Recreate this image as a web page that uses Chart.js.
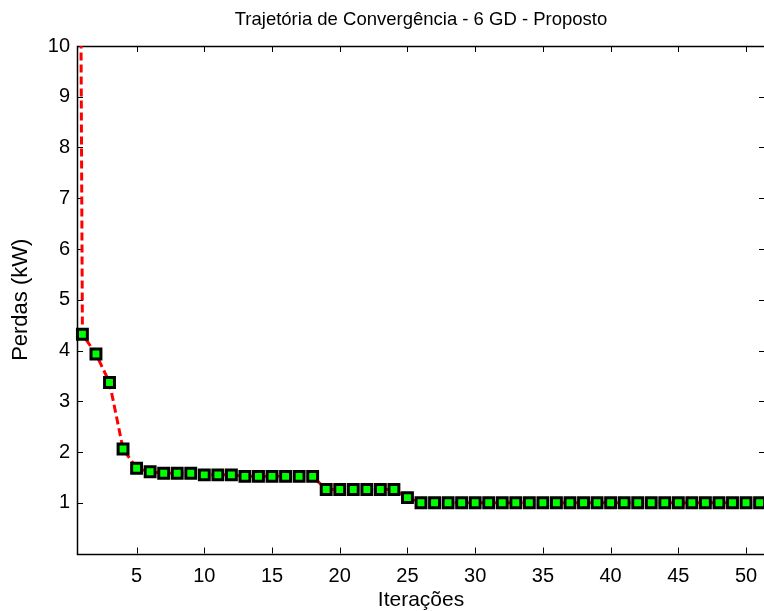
<!DOCTYPE html>
<html>
<head>
<meta charset="utf-8">
<title>Trajetória de Convergência</title>
<script src="https://cdn.jsdelivr.net/npm/chart.js@4/dist/chart.umd.min.js"></script>
<style>
  html, body { margin: 0; padding: 0; background: #fff; overflow: hidden; }
  canvas { display: block; }
</style>
</head>
<body>
<canvas id="conv" width="768" height="611"></canvas>
<script>
// iteration 0 is the starting value, off the top of the axes
const iterations = [0, 1, 2, 3, 4, 5, 6, 7, 8, 9, 10, 11, 12, 13, 14, 15, 16, 17, 18, 19, 20,
  21, 22, 23, 24, 25, 26, 27, 28, 29, 30, 31, 32, 33, 34, 35, 36, 37, 38, 39, 40,
  41, 42, 43, 44, 45, 46, 47, 48, 49, 50, 51];
const losses = [60, 4.32, 3.93, 3.37, 2.06, 1.68, 1.61, 1.58, 1.58, 1.58, 1.55, 1.55, 1.55,
  1.52, 1.52, 1.52, 1.52, 1.52, 1.52, 1.26, 1.26, 1.26, 1.26, 1.26, 1.26, 1.10,
  1.00, 1.00, 1.00, 1.00, 1.00, 1.00, 1.00, 1.00, 1.00, 1.00, 1.00, 1.00, 1.00,
  1.00, 1.00, 1.00, 1.00, 1.00, 1.00, 1.00, 1.00, 1.00, 1.00, 1.00, 1.00, 1.00];
const xTickValues = [5, 10, 15, 20, 25, 30, 35, 40, 45, 50];
const yTickValues = [1, 2, 3, 4, 5, 6, 7, 8, 9, 10];

const FONT = 'Arial, "Liberation Sans", Helvetica, sans-serif';

// MATLAB-like box with inward tick marks
const matlabFrame = {
  id: 'matlabFrame',
  beforeDatasetsDraw(chart) {
    const { ctx, chartArea: a, scales } = chart;
    const tl = 6;
    ctx.save();
    ctx.strokeStyle = '#000';
    ctx.lineWidth = 1;
    ctx.beginPath();
    scales.x.ticks.forEach(t => {
      const px = Math.round(scales.x.getPixelForValue(t.value)) + 0.5;
      ctx.moveTo(px, a.bottom); ctx.lineTo(px, a.bottom - tl);
      ctx.moveTo(px, a.top); ctx.lineTo(px, a.top + tl);
    });
    scales.y.ticks.forEach(t => {
      const py = Math.round(scales.y.getPixelForValue(t.value)) + 0.5;
      ctx.moveTo(a.left, py); ctx.lineTo(a.left + tl, py);
      ctx.moveTo(a.right, py); ctx.lineTo(a.right - tl, py);
    });
    ctx.stroke();
    ctx.lineWidth = 1.5;
    ctx.strokeRect(Math.round(a.left) + 0.5, Math.round(a.top) + 0.5,
      Math.round(a.right - a.left), Math.round(a.bottom - a.top));
    ctx.restore();
  }
};

new Chart(document.getElementById('conv'), {
  type: 'line',
  data: {
    datasets: [{
      data: iterations.map((it, i) => ({ x: it, y: losses[i] })),
      borderColor: '#ff0000',
      borderWidth: 3,
      borderDash: [8, 4],
      fill: false,
      tension: 0,
      pointStyle: 'rect',
      pointRadius: iterations.map(it => it === 0 ? 0 : 7),
      pointBackgroundColor: '#00ff00',
      pointBorderColor: '#000',
      pointBorderWidth: 3,
      clip: { left: 10, top: 0, right: 10, bottom: 10 }
    }]
  },
  options: {
    responsive: false,
    animation: false,
    events: [],
    layout: { autoPadding: false, padding: { left: 0, top: 0, right: 3, bottom: 0 } },
    plugins: {
      legend: { display: false },
      tooltip: { enabled: false },
      title: {
        display: true,
        fullSize: false,
        text: 'Trajetória de Convergência - 6 GD - Proposto',
        color: '#000',
        font: { family: FONT, size: 18.5, weight: 'normal', lineHeight: 1.2 },
        padding: { top: 9, bottom: 14.8 }
      }
    },
    scales: {
      x: {
        type: 'linear',
        min: 0.6,
        max: 51.4,
        afterBuildTicks: s => { s.ticks = xTickValues.map(v => ({ value: v })); },
        afterFit: s => { s.height = 57.5; s.paddingLeft = 0; s.paddingRight = 0; },
        grid: { display: false, drawTicks: false },
        border: { display: false },
        ticks: { color: '#000', font: { family: FONT, size: 20 }, padding: 11, maxRotation: 0 },
        title: {
          display: true, text: 'Iterações', color: '#000',
          font: { family: FONT, size: 21, lineHeight: 1 }, padding: { top: 0, bottom: 0.5 }
        }
      },
      y: {
        min: 0,
        max: 10,
        afterBuildTicks: s => { s.ticks = yTickValues.map(v => ({ value: v })); },
        afterFit: s => { s.width = 77; s.paddingTop = 0; s.paddingBottom = 0; },
        grid: { display: false, drawTicks: false },
        border: { display: false },
        ticks: { color: '#000', font: { family: FONT, size: 20 }, padding: 7 },
        title: {
          display: true, text: 'Perdas (kW)', color: '#000',
          font: { family: FONT, size: 22, lineHeight: 1 }, padding: { top: 10, bottom: 0 }
        }
      }
    }
  },
  plugins: [matlabFrame]
});
</script>
</body>
</html>
